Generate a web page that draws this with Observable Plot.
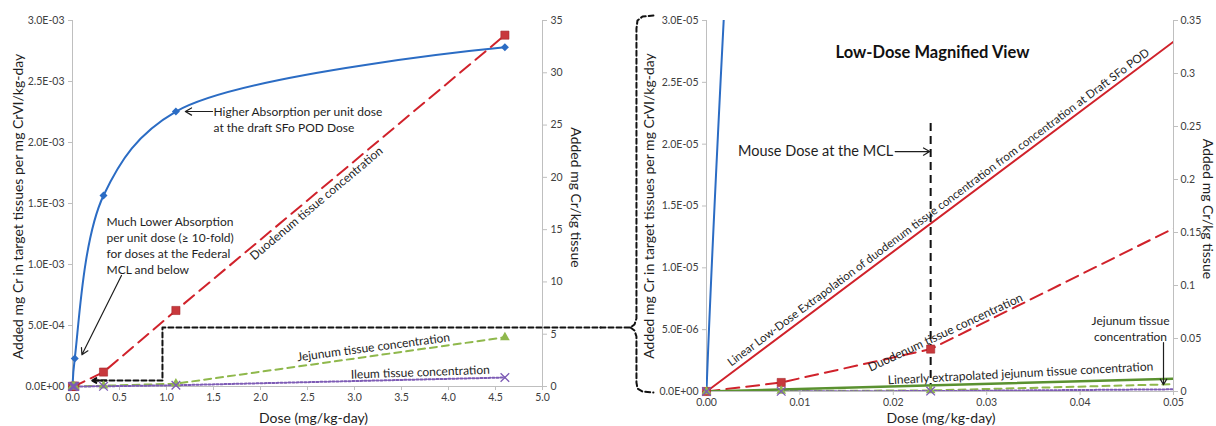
<!DOCTYPE html>
<html><head><meta charset="utf-8">
<script src="https://cdn.jsdelivr.net/npm/d3@7"></script>
<script src="https://cdn.jsdelivr.net/npm/@observablehq/plot@0.6"></script>
<style>
body{margin:0;background:#fff;}
#wrap{position:relative;width:1216px;height:426px;overflow:hidden;background:#fff;}
#wrap svg{position:absolute;top:0;overflow:visible;}
</style></head><body><div id="wrap"></div>
<script>
// ---------- data ----------
const absDoses   = [0, 0.024, 0.33, 1.1, 4.6];
const absorption = [0, 2.3e-4, 1.566e-3, 2.254e-3, 2.78e-3];   // left axis (per mg CrVI/kg-day)

const doses    = [0, 0.008, 0.024, 0.33, 1.1, 4.6];
const duodenum = [0, 0.0085, 0.04, 1.38, 7.27, 33.6];            // mg Cr/kg tissue
const jejunum  = [0, 0.0005, 0.001, 0.07, 0.27, 4.7];
const ileum    = [0, 0.0002, 0.0004, 0.02, 0.12, 0.86];

const extrapDoses    = [0, 0.05];
const extrapDuodenum = [0, 0.33];
const extrapJejunum  = [0, 0.012];

const leftXTicks  = [0,0.5,1,1.5,2,2.5,3,3.5,4,4.5,5];
const leftYTicks  = [0,5e-4,1e-3,1.5e-3,2e-3,2.5e-3,3e-3];
const leftY2Ticks = [0,5,10,15,20,25,30,35];
const rightXTicks = [0,0.01,0.02,0.03,0.04,0.05];
const rightYTicks = [0,5e-6,1e-5,1.5e-5,2e-5,2.5e-5,3e-5];
const rightY2Ticks= [0,0.05,0.1,0.15,0.2,0.25,0.3,0.35];

const yTitle  = "Added mg Cr in target tissues per mg CrVI/kg-day";
const y2Title = "Added mg Cr/kg tissue";
const xTitle  = "Dose (mg/kg-day)";

// annotation positions (data units of each panel)
const leftConnDose = [0.223, 0.957, 0.957, 5.62];
const leftConnVal  = [4.9e-5, 4.9e-5, 4.84e-4, 4.84e-4];
const braceDose = [-0.01135,-0.00814,-0.00771,-0.0075,-0.0075,-0.00739,-0.00685,-0.00568];
const braceVal  = [5.175e-6,5.175e-6,5.42e-6,5.9e-6,2.935e-5,3.0e-5,3.032e-5,3.04e-5];
const braceDose2 = [-0.00814,-0.00771,-0.0075,-0.0075,-0.00739,-0.00685,-0.00568];
const braceVal2  = [5.175e-6,4.93e-6,4.45e-6,7.3e-7,2.4e-7,0,-8e-8];

// ---------- styles ----------
const FONT = "Lato, 'Open Sans', sans-serif";
const BLUE="#2b6cc4", RED="#d0222b", REDM="#c8383c", GREEN="#8fb84c", GREEN2="#5a9130",
      PURPLE="#7d5bb5", AXIS="#bfbfbf", TXT="#404040", INK="#1e1e1e";

function sci(d){
  if (Math.abs(d) < 1e-15) return "0.0E+00";
  const [m, e] = d.toExponential(1).split("e");
  const n = +e;
  return m + "E" + (n < 0 ? "-" : "+") + String(Math.abs(n)).padStart(2, "0");
}

const absTable = absDoses.map((d,i)=>({dose:d, v:absorption[i]}));
const tissue   = doses.map((d,i)=>({dose:d, duo:duodenum[i], jej:jejunum[i], ile:ileum[i]}));
const extrap   = extrapDoses.map((d,i)=>({dose:d, duo:extrapDuodenum[i], jej:extrapJejunum[i]}));
const leftConn = leftConnDose.map((d,i)=>({x:d, y:leftConnVal[i]}));
const brace1   = braceDose.map((d,i)=>({x:d, y:braceVal[i]}));
const brace2   = braceDose2.map((d,i)=>({x:d, y:braceVal2[i]}));

function axes(xt, xf, yt, k, y2t, y2f, pad2){
  return [
    Plot.axisX({ticks:xt, tickFormat:xf, tickSize:4, tickPadding:3, stroke:AXIS, fill:TXT, fontSize:10.5, label:null}),
    Plot.axisY({ticks:yt, tickFormat:sci, tickSize:4, tickPadding:4, stroke:AXIS, fill:TXT, fontSize:10.5, label:null}),
    Plot.axisY({anchor:"right", ticks:y2t.map(t=>t*k), tickFormat:y2f, tickSize:4, tickPadding:pad2, stroke:AXIS, fill:TXT, fontSize:10.5, label:null})
  ];
}
function seriesLines(k, clip){
  return [
    Plot.line(absTable, {x:"dose", y:"v", stroke:BLUE, strokeWidth:2, curve:"catmull-rom", clip}),
    Plot.line(tissue, {x:"dose", y:d=>d.duo*k, stroke:RED, strokeWidth:2, strokeDasharray:"13,7", clip}),
    Plot.line(tissue, {x:"dose", y:d=>d.jej*k, stroke:GREEN, strokeWidth:2, strokeDasharray:"7,5", clip}),
    Plot.line(tissue, {x:"dose", y:d=>d.ile*k, stroke:PURPLE, strokeWidth:2, strokeDasharray:"2,2", clip})
  ];
}
function seriesDots(k, maxDose){
  const t = tissue.filter(d=>d.dose<=maxDose);
  const a = absTable.filter(d=>d.dose<=maxDose);
  return [
    Plot.dot(a, {x:"dose", y:"v", symbol:"square", rotate:45, r:3.2, fill:BLUE}),
    Plot.dot(t, {x:"dose", y:d=>d.duo*k, symbol:"square", r:4.6, fill:REDM, stroke:"#a52a2e", strokeWidth:0.6}),
    Plot.dot(t, {x:"dose", y:d=>d.jej*k, symbol:"triangle", r:3.6, fill:GREEN}),
    Plot.dot(t, {x:"dose", y:d=>d.ile*k, symbol:"times", r:4, stroke:PURPLE, strokeWidth:1.3})
  ];
}
const note = (data, o) => Plot.text(data, {fill:INK, fontSize:12, ...o});
const title = (data, o) => Plot.text(data, {fill:INK, fontSize:14, textAnchor:"middle", lineAnchor:"middle", ...o});

// ---------- left panel ----------
const kL = 3e-3/35;
const left = Plot.plot({
  width:600, height:426, marginLeft:72, marginRight:58, marginTop:20, marginBottom:40,
  x:{domain:[0,5]}, y:{domain:[0,3e-3]},
  style:{fontFamily:FONT, fontSize:"10.5px", color:TXT, background:"transparent", overflow:"visible"},
  marks:[
    Plot.ruleY([0], {stroke:AXIS}),
    Plot.ruleX([0], {stroke:AXIS}),
    Plot.ruleX([5], {stroke:AXIS}),
    ...axes(leftXTicks, d3.format(".1f"), leftYTicks, kL, leftY2Ticks, d=>String(Math.round(d/kL)), 4),
    title([yTitle], {frameAnchor:"left", dx:-54, dy:3, rotate:-90}),
    title([y2Title], {frameAnchor:"right", dx:33, dy:-6, rotate:90}),
    title([xTitle], {frameAnchor:"bottom", dx:6, dy:32}),
    Plot.line(leftConn, {x:"x", y:"y", stroke:"#111", strokeWidth:2, strokeDasharray:"5,3"}),
    Plot.arrow([0], {x1:0.36, x2:0.21, y1:4.9e-5, y2:4.9e-5, stroke:"#111", strokeWidth:2, headLength:7}),
    ...seriesLines(kL, false),
    ...seriesDots(kL, 5),
    note(["Higher Absorption per unit dose\nat the draft SFo POD Dose"], {x:1.5, y:2.31e-3, textAnchor:"start", lineAnchor:"top", lineHeight:1.33}),
    Plot.arrow([0], {x1:1.49, x2:1.2, y1:2.254e-3, y2:2.254e-3, stroke:INK, strokeWidth:1.2, headLength:9}),
    note(["Much Lower Absorption\nper unit dose (\u2265 10-fold)\nfor doses at the Federal\nMCL and below"], {x:0.362, y:1.41e-3, textAnchor:"start", lineAnchor:"top", lineHeight:1.33}),
    Plot.arrow([0], {x1:0.521, x2:0.1, y1:9.1e-4, y2:2.6e-4, stroke:INK, strokeWidth:1.2, headLength:9}),
    note(["Duodenum tissue concentration"], {x:2.596, y:1.5e-3, rotate:-40}),
    note(["Jejunum tissue concentration"], {x:3.202, y:3.2e-4, rotate:-7.5}),
    note(["Ileum tissue concentration"], {x:3.70, y:1.15e-4, rotate:-2})
  ]
});
left.style.left = "0px";

// ---------- right panel ----------
const kR = 3e-5/0.35;
const right = Plot.plot({
  width:616, height:426, marginLeft:106, marginRight:43, marginTop:20, marginBottom:35,
  x:{domain:[0,0.05]}, y:{domain:[0,3e-5]},
  style:{fontFamily:FONT, fontSize:"10.5px", color:TXT, background:"transparent", overflow:"visible"},
  marks:[
    Plot.ruleY([0], {stroke:AXIS}),
    Plot.ruleX([0], {stroke:AXIS}),
    Plot.ruleX([0.05], {stroke:AXIS}),
    ...axes(rightXTicks, d3.format(".2f"), rightYTicks, kR, rightY2Ticks, d=>String(+(d/kR).toFixed(2)), 3),
    title([yTitle], {frameAnchor:"left", dx:-57, dy:0, rotate:-90}),
    title([y2Title], {frameAnchor:"right", dx:34, dy:3, rotate:90}),
    title([xTitle], {frameAnchor:"bottom", dx:1, dy:27}),
    Plot.line(brace1, {x:"x", y:"y", stroke:"#111", strokeWidth:2, strokeDasharray:"5,3"}),
    Plot.line(brace2, {x:"x", y:"y", stroke:"#111", strokeWidth:2, strokeDasharray:"5,3"}),
    Plot.ruleX([0.024], {y1:0, y2:2.167e-5, stroke:"#111", strokeWidth:2, strokeDasharray:"8,5"}),
    ...seriesLines(kR, true),
    Plot.line(extrap, {x:"dose", y:d=>d.duo*kR, stroke:RED, strokeWidth:2, clip:true}),
    Plot.line(extrap, {x:"dose", y:d=>d.jej*kR, stroke:GREEN2, strokeWidth:2.5, clip:true}),
    ...seriesDots(kR, 0.05),
    Plot.text(["Low-Dose Magnified View"], {x:0.0242, y:2.741e-5, fontSize:16.5, fontWeight:"bold", fill:"#111"}),
    note(["Mouse Dose at the MCL"], {x:0.0200, y:1.94e-5, textAnchor:"end", fontSize:14.5}),
    Plot.arrow([0], {x1:0.0202, x2:0.0239, y1:1.94e-5, y2:1.94e-5, stroke:INK, strokeWidth:1.2, headLength:9}),
    note(["Linear Low-Dose Extrapolation of duodenum tissue concentration from concentration at Draft SFo POD"], {x:0.02484, y:1.488e-5, rotate:-36.7, fontSize:11.5}),
    note(["Duodenum tissue concentration"], {x:0.02559, y:4.77e-6, rotate:-25}),
    note(["Linearly extrapolated jejunum tissue concentration"], {x:0.03362, y:1.455e-6, rotate:-3}),
    note(["Jejunum tissue\nconcentration"], {x:0.0454, y:6.3e-6, lineAnchor:"top", lineHeight:1.33}),
    Plot.arrow([0], {x1:0.04893, x2:0.04893, y1:3.96e-6, y2:0.55e-6, stroke:INK, strokeWidth:1.2, headLength:8})
  ]
});
right.style.left = "600px";

const wrap = document.getElementById("wrap");
wrap.appendChild(left);
wrap.appendChild(right);
</script></body></html>
